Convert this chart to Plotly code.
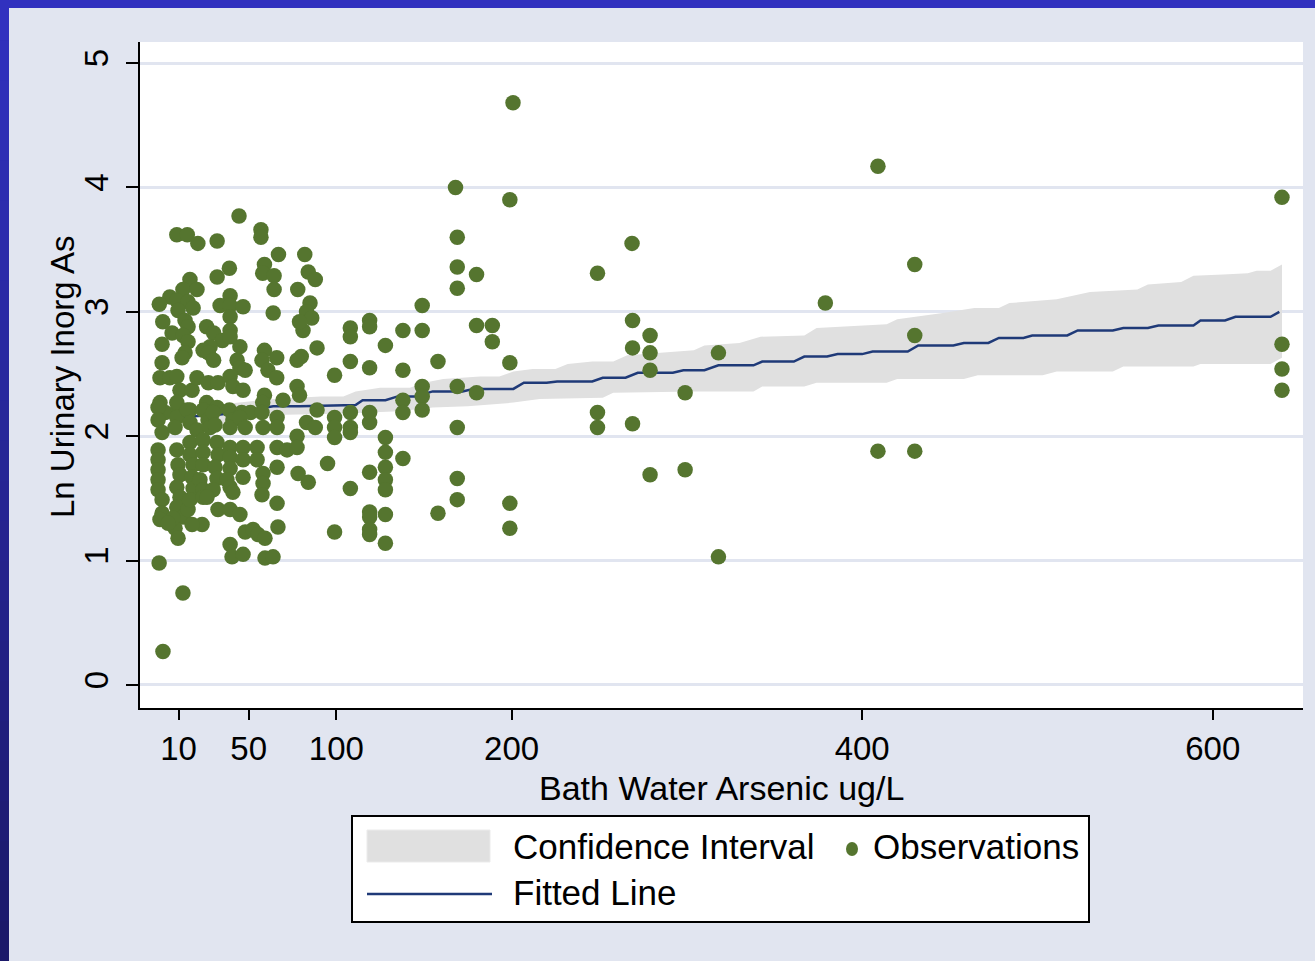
import plotly.graph_objects as go

# ---------------- data ----------------
obs_x = [
    200.8, 199, 199, 199, 199,
    168, 169, 169, 169, 169, 169, 169, 169,
    180, 180, 189, 189, 180,
    268.7, 249, 269, 279, 269, 279, 279, 318, 299, 249, 249, 269, 279, 299, 318,
    379, 430, 430, 409, 430, 409, 639.5, 639.5, 639.5, 639.5,
    # x 80-160
    82, 84, 88, 85, 83, 86, 81, 89, 80, 89, 83, 88, 95, 84,
    99, 108, 108, 108, 99, 99, 99, 108, 108, 108, 99, 108,
    119, 119, 119, 119, 119, 119, 119, 119, 119, 119,
    128, 128, 128, 128, 128, 128, 128, 128,
    138, 138, 138, 138, 138,
    149, 149, 149, 149, 149,
    158, 158,
    # dense cluster, upper part
    44.5, 9, 15, 21, 32, 57, 57, 67, 39, 32, 59, 58, 64.5, 16.5, 12.5, 20.5, 64.5, 78,
    5, -1, 9, 15.4, 39.4, 33.7, 39.4, 46.8, 9.7, 18.3, 64, 1, 13.7, 15.4, 39.4, 79,
    6.3, 12.5, 26, 30, 35, 28, 39.4, 0.6, 15.4, 45, 39.4, 13.7, 12, 24, 27, 30,
    59, 57.6, 66, 77.6, 0.6, 43.4, 45, 48, 61, 66, -0.6, 5, 9, 10.8, 17.7, 20.5,
    27, 32.5, 39.4, 41, 46.8, 77.6, 79, 59, 58, 69.6, -0.6, 2.3, 9.7, 16.5, 26, 32,
    39, 46, 51,
    # dense cluster, lower part
    -1.7, -1.7, 0.6, 9, 9, 8, 15, 16.5, 20.5, 24, 26.8, 28, 41, 39.4, 29.7, 30.8,
    45, 48, 57.6, 58.2, 66.2, 66.2, 77.6,
    -1.7, -1.7, -1.7, -1.7, -1.7, 0.6, 0.6, -0.6,
    9, 9.7, 10.8, 9, 10.8, 9, 12.5, 8, 9.7,
    16.5, 16.5, 18.3, 17.7, 18.3, 15.4, 16.5,
    24, 24, 24, 22.2, 24, 24,
    31.9, 32.5, 30.8, 31.9, 29.7, 23.4,
    39.4, 39.4, 39.4, 37.6, 39.4, 32.5, 39.4, 45, 41,
    46.8, 46.8, 46.8, 54.8, 54.8, 58.2, 58.2, 57.6, 66.2, 66.2, 66.2, 71.9, 77.6, 78.2,
    48, 52.5, 55.3, 59.3, 39.4, 40.5, 46.8, 59.3, 63.9, 66.7,
    -1.1, 12.5, 1.1, 26.2, 17.7, 6.8, 4,
]
obs_y = [
    4.68, 3.90, 2.59, 1.46, 1.26,
    4.00, 3.60, 3.36, 3.19, 2.40, 2.07, 1.66, 1.49,
    3.30, 2.89, 2.89, 2.76, 2.35,
    3.55, 3.31, 2.93, 2.81, 2.71, 2.67, 2.53, 2.67, 2.35, 2.19, 2.07, 2.10, 1.69, 1.73, 1.03,
    3.07, 3.38, 2.81, 1.88, 1.88, 4.17, 3.92, 2.74, 2.54, 2.37,
    # x 80-160
    3.46, 3.32, 3.26, 3.07, 3.00, 2.95, 2.85, 2.71, 2.64, 2.21, 2.11, 2.07, 1.78, 1.63,
    2.49, 2.87, 2.80, 2.60, 2.15, 2.07, 1.99, 2.19, 2.07, 2.03, 1.23, 1.58,
    2.93, 2.88, 2.55, 2.19, 2.11, 1.71, 1.39, 1.35, 1.25, 1.21,
    2.73, 1.99, 1.87, 1.75, 1.65, 1.57, 1.37, 1.14,
    2.85, 2.53, 2.29, 2.19, 1.82,
    3.05, 2.85, 2.40, 2.32, 2.21,
    2.60, 1.38,
    # dense cluster, upper part
    3.77, 3.62, 3.62, 3.55, 3.57, 3.66, 3.60, 3.46, 3.35, 3.28, 3.38, 3.31, 3.29, 3.26, 3.18, 3.18, 3.18, 3.18,
    3.12, 3.06, 3.09, 3.08, 3.13, 3.05, 3.05, 3.04, 3.01, 3.03, 2.99, 2.92, 2.93, 2.88, 2.96, 2.92,
    2.83, 2.81, 2.88, 2.83, 2.77, 2.72, 2.85, 2.74, 2.76, 2.72, 2.80, 2.67, 2.63, 2.69, 2.67, 2.61,
    2.69, 2.61, 2.63, 2.61, 2.59, 2.61, 2.55, 2.53, 2.53, 2.47, 2.47, 2.47, 2.48, 2.37, 2.37, 2.47,
    2.43, 2.43, 2.48, 2.40, 2.37, 2.40, 2.33, 2.33, 2.27, 2.29, 2.27, 2.19, 2.23, 2.21, 2.27, 2.23,
    2.21, 2.19, 2.19,
    # dense cluster, lower part
    2.23, 2.13, 2.03, 2.27, 2.15, 2.07, 2.21, 2.11, 2.05, 2.21, 2.13, 2.07, 2.13, 2.07, 2.19, 2.09,
    2.15, 2.07, 2.19, 2.07, 2.15, 2.07, 2.00,
    1.89, 1.81, 1.73, 1.65, 1.57, 1.49, 1.38, 1.33,
    1.89, 1.77, 1.69, 1.59, 1.51, 1.43, 1.35, 1.26, 1.18,
    1.95, 1.85, 1.77, 1.67, 1.58, 1.41, 1.49,
    1.97, 1.87, 1.77, 1.65, 1.57, 1.51,
    1.95, 1.85, 1.75, 1.66, 1.57, 1.29,
    1.91, 1.83, 1.74, 1.65, 1.59, 1.41, 1.41, 1.37, 1.55,
    1.91, 1.81, 1.67, 1.91, 1.81, 1.70, 1.62, 1.53, 1.91, 1.75, 1.46, 1.89, 1.91, 1.70,
    1.23, 1.25, 1.21, 1.18, 1.13, 1.03, 1.05, 1.02, 1.03, 1.27,
    0.98, 0.74, 0.27, 1.51, 1.29, 1.34, 1.30,
]

fit_x = [5, 32, 51, 64, 79, 111, 115, 128, 135, 145, 155, 172, 178, 201, 207, 220, 226, 246,
         252, 265, 272, 292, 298, 310, 318, 338, 343, 361, 367, 380, 386, 400, 406, 426, 432,
         452, 458, 472, 478, 492, 497, 517, 523, 543, 549, 563, 569, 589, 593, 607, 613, 633, 638]
fit_y = [2.15, 2.17, 2.21, 2.24, 2.24, 2.25, 2.29, 2.29, 2.32, 2.32, 2.36, 2.36, 2.38, 2.38,
         2.43, 2.43, 2.44, 2.44, 2.47, 2.47, 2.51, 2.51, 2.53, 2.53, 2.57, 2.57, 2.60, 2.60,
         2.64, 2.64, 2.66, 2.66, 2.68, 2.68, 2.73, 2.73, 2.75, 2.75, 2.79, 2.79, 2.81, 2.81,
         2.85, 2.85, 2.87, 2.87, 2.89, 2.89, 2.93, 2.93, 2.96, 2.96, 3.00]

ci_upper_x = [31, 64, 91, 104, 111, 125, 142, 150, 161, 182, 193, 201, 212, 225, 232, 246, 258,
              266, 304, 310, 330, 342, 367, 374, 414, 420, 446, 464, 478, 484, 511, 530, 557,
              563, 582, 589, 606, 620, 625, 633, 639.5]
ci_upper_y = [2.25, 2.30, 2.32, 2.32, 2.36, 2.39, 2.39, 2.43, 2.46, 2.48, 2.48, 2.52, 2.54,
              2.54, 2.58, 2.60, 2.60, 2.65, 2.69, 2.73, 2.75, 2.80, 2.81, 2.87, 2.90, 2.94,
              2.99, 3.03, 3.03, 3.07, 3.10, 3.16, 3.18, 3.22, 3.24, 3.29, 3.30, 3.31, 3.33,
              3.33, 3.38]
ci_lower_x = [31, 64, 100, 136, 155, 175, 201, 216, 252, 258, 304, 338, 343, 367, 374, 414,
              420, 458, 466, 503, 511, 543, 549, 589, 593, 633, 639.5]
ci_lower_y = [2.09, 2.17, 2.18, 2.20, 2.23, 2.24, 2.27, 2.30, 2.31, 2.35, 2.36, 2.36, 2.40,
              2.40, 2.43, 2.43, 2.46, 2.46, 2.49, 2.49, 2.52, 2.52, 2.56, 2.56, 2.58, 2.58, 2.63]

x_ticks = [10, 50, 100, 200, 400, 600]
y_ticks = [0, 1, 2, 3, 4, 5]

x_title = "Bath Water Arsenic ug/L"
y_title = "Ln Urinary Inorg As"
legend_labels = ["Confidence Interval", "Observations", "Fitted Line"]

# ---------------- styling ----------------
W, H = 1315, 961
ML, MR, MT, MB = 140, 12, 42, 253
PW, PH = W - ML - MR, H - MT - MB
FONT = "Liberation Sans, Arial, sans-serif"
PANEL = "#e1e5f0"
GREEN = "#55752f"
NAVY = "#1f3a78"
BAND = "#e0e0e0"


def px(xp):
    return (xp - ML) / PW


def py(yp):
    return (H - MB - yp) / PH


fig = go.Figure()
fig.add_trace(go.Scatter(
    x=ci_upper_x + ci_lower_x[::-1], y=ci_upper_y + ci_lower_y[::-1],
    mode="lines", fill="toself", fillcolor=BAND, line=dict(width=0),
    name=legend_labels[0], hoverinfo="skip"))
fig.add_trace(go.Scatter(
    x=fit_x, y=fit_y, mode="lines", name=legend_labels[2],
    line=dict(color=NAVY, width=2.5)))
fig.add_trace(go.Scatter(
    x=obs_x, y=obs_y, mode="markers", name=legend_labels[1],
    marker=dict(color=GREEN, size=15.5, line=dict(width=0))))

shapes = []
# blue frame: top strip and left gradient strip
shapes.append(dict(type="rect", xref="paper", yref="paper", x0=px(0), x1=px(W),
                   y0=py(8), y1=py(0), fillcolor="#3131bf", line=dict(width=0), layer="below"))
n = 24
c0 = (49, 49, 191)
c1 = (27, 25, 106)
for i in range(n):
    t = i / (n - 1)
    col = "rgb(%d,%d,%d)" % tuple(round(a + (b - a) * t) for a, b in zip(c0, c1))
    shapes.append(dict(type="rect", xref="paper", yref="paper", x0=px(0), x1=px(9),
                       y0=py(H * (i + 1) / n + 1), y1=py(H * i / n), fillcolor=col,
                       line=dict(width=0), layer="below"))
# legend box
shapes.append(dict(type="rect", xref="paper", yref="paper", x0=px(352), x1=px(1089),
                   y0=py(922), y1=py(816), fillcolor="white", line=dict(color="black", width=2)))
shapes.append(dict(type="rect", xref="paper", yref="paper", x0=px(367), x1=px(490),
                   y0=py(862), y1=py(830), fillcolor=BAND, line=dict(color="#ebebeb", width=1)))
shapes.append(dict(type="circle", xref="paper", yref="paper", x0=px(846), x1=px(858),
                   y0=py(856), y1=py(842), fillcolor=GREEN, line=dict(width=0)))
shapes.append(dict(type="line", xref="paper", yref="paper", x0=px(367), x1=px(492),
                   y0=py(894), y1=py(894), line=dict(color=NAVY, width=2.5)))

annotations = []
for text, xx, yy in [(legend_labels[0], 511, 846), (legend_labels[1], 871, 846),
                     (legend_labels[2], 511, 893)]:
    annotations.append(dict(text=text, xref="paper", yref="paper", x=px(xx), y=py(yy),
                            xanchor="left", yanchor="middle", showarrow=False,
                            font=dict(family=FONT, size=35, color="black")))
# axis titles
annotations.append(dict(text=x_title, xref="paper", yref="paper", x=px(721), y=py(788),
                        xanchor="center", yanchor="middle", showarrow=False,
                        font=dict(family=FONT, size=34, color="black")))
annotations.append(dict(text=y_title, xref="paper", yref="paper", x=px(62), y=py(377),
                        xanchor="center", yanchor="middle", showarrow=False, textangle=-90,
                        font=dict(family=FONT, size=33, color="black")))

fig.update_layout(
    width=W, height=H, margin=dict(l=ML, r=MR, t=MT, b=MB, pad=0),
    paper_bgcolor=PANEL, plot_bgcolor="white", showlegend=False,
    font=dict(family=FONT, size=33, color="black"),
    shapes=shapes, annotations=annotations,
    xaxis=dict(range=[-12, 651.5], tickvals=x_ticks, ticks="outside", ticklen=10,
               tickwidth=2, tickcolor="black", showline=True, linecolor="black",
               linewidth=2, showgrid=False, zeroline=False,
               tickfont=dict(family=FONT, size=33), ticklabelstandoff=0),
    yaxis=dict(range=[-0.185, 5.169], tickvals=y_ticks, tickangle=-90, ticks="outside",
               ticklen=12, tickwidth=2, tickcolor="black", showline=True,
               linecolor="black", linewidth=2, showgrid=True, gridcolor=PANEL,
               gridwidth=2.5, zeroline=False, tickfont=dict(family=FONT, size=33),
               ticklabelstandoff=5),
)

fig.write_html("out.html", config={"displayModeBar": False},
               post_script="document.body.style.margin='0px';document.body.style.overflow='hidden';")
